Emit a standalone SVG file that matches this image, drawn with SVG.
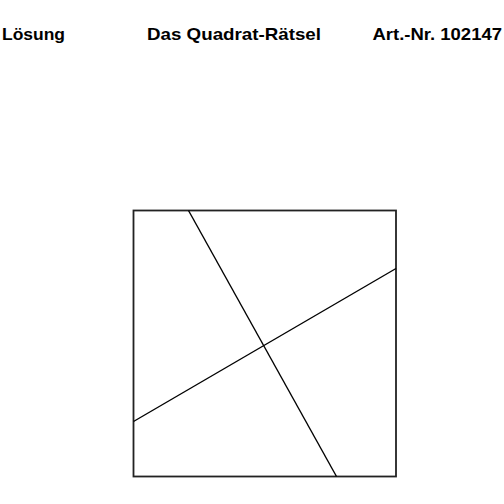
<svg xmlns="http://www.w3.org/2000/svg" width="504" height="504" viewBox="0 0 504 504">
<style>
.t{font-family:"Liberation Sans",Arial,sans-serif;font-weight:bold;font-size:17px;fill:#000}
.sq{fill:none;stroke:#222;stroke-width:1.8}
.cut{stroke:#000;stroke-width:1.4;fill:none}
</style>
<rect width="504" height="504" fill="#fff"/>
<g id="header">
<text class="t" x="2" y="40" textLength="63" lengthAdjust="spacingAndGlyphs">Lösung</text>
<text class="t" x="147" y="40" textLength="174" lengthAdjust="spacingAndGlyphs">Das Quadrat-Rätsel</text>
<text class="t" x="372.5" y="40" textLength="129.5" lengthAdjust="spacingAndGlyphs">Art.-Nr. 102147</text>
</g>
<g id="square">
<rect class="sq" x="133.5" y="210.5" width="262.5" height="266"/>
</g>
<g id="connectors">
<line class="cut" x1="188.5" y1="210.5" x2="336.5" y2="476.5"/>
<line class="cut" x1="133.5" y1="421.5" x2="396" y2="268.5"/>
</g>
</svg>
